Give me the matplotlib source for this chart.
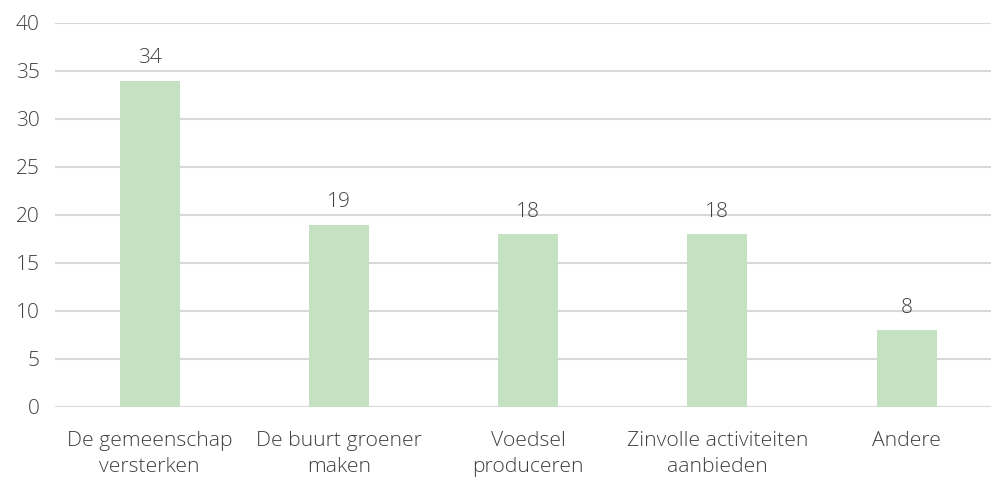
import matplotlib.pyplot as plt
import numpy as np

# Dane wykresu
categories = ['De gemeenschap\nversterken', 'De buurt groener\nmaken', 'Voedsel\nproduceren',
              'Zinvolle activiteiten\naanbieden', 'Andere']
values = [34, 19, 18, 18, 8]
yticks = [0, 5, 10, 15, 20, 25, 30, 35, 40]

plt.rcParams['font.family'] = ['Open Sans', 'DejaVu Sans']
plt.rcParams['font.weight'] = 'light'
text_color = '#404040'

fig = plt.figure(figsize=(9.91, 4.78), dpi=100)
# pozycja obszaru wykresu w pikselach: x 55-991, y 23-407
ax = fig.add_axes([55 / 991, 1 - 407 / 478, 936 / 991, 384 / 478])

x = np.arange(len(categories))
bars = ax.bar(x, values, width=0.317, color='#C4E1C2', zorder=2)

for xi, v in zip(x, values):
    ax.annotate(str(v), (xi, v), xytext=(0, 9), textcoords='offset points',
                ha='center', va='bottom', fontsize=15, color=text_color)

ax.set_xlim(-0.5, 4.446)
ax.set_ylim(0, 40)
ax.set_yticks(yticks)
ax.set_xticks(x)
ax.set_xticklabels(categories, fontsize=15.2, color=text_color, linespacing=1.4)
ax.tick_params(axis='y', labelsize=15, labelcolor=text_color, length=0, pad=11)
ax.tick_params(axis='x', length=0, pad=17)

ax.grid(axis='y', color='#D9D9D9', linewidth=1.5, zorder=0)
for s in ax.spines.values():
    s.set_visible(False)

fig.savefig('out.png', dpi=100)
